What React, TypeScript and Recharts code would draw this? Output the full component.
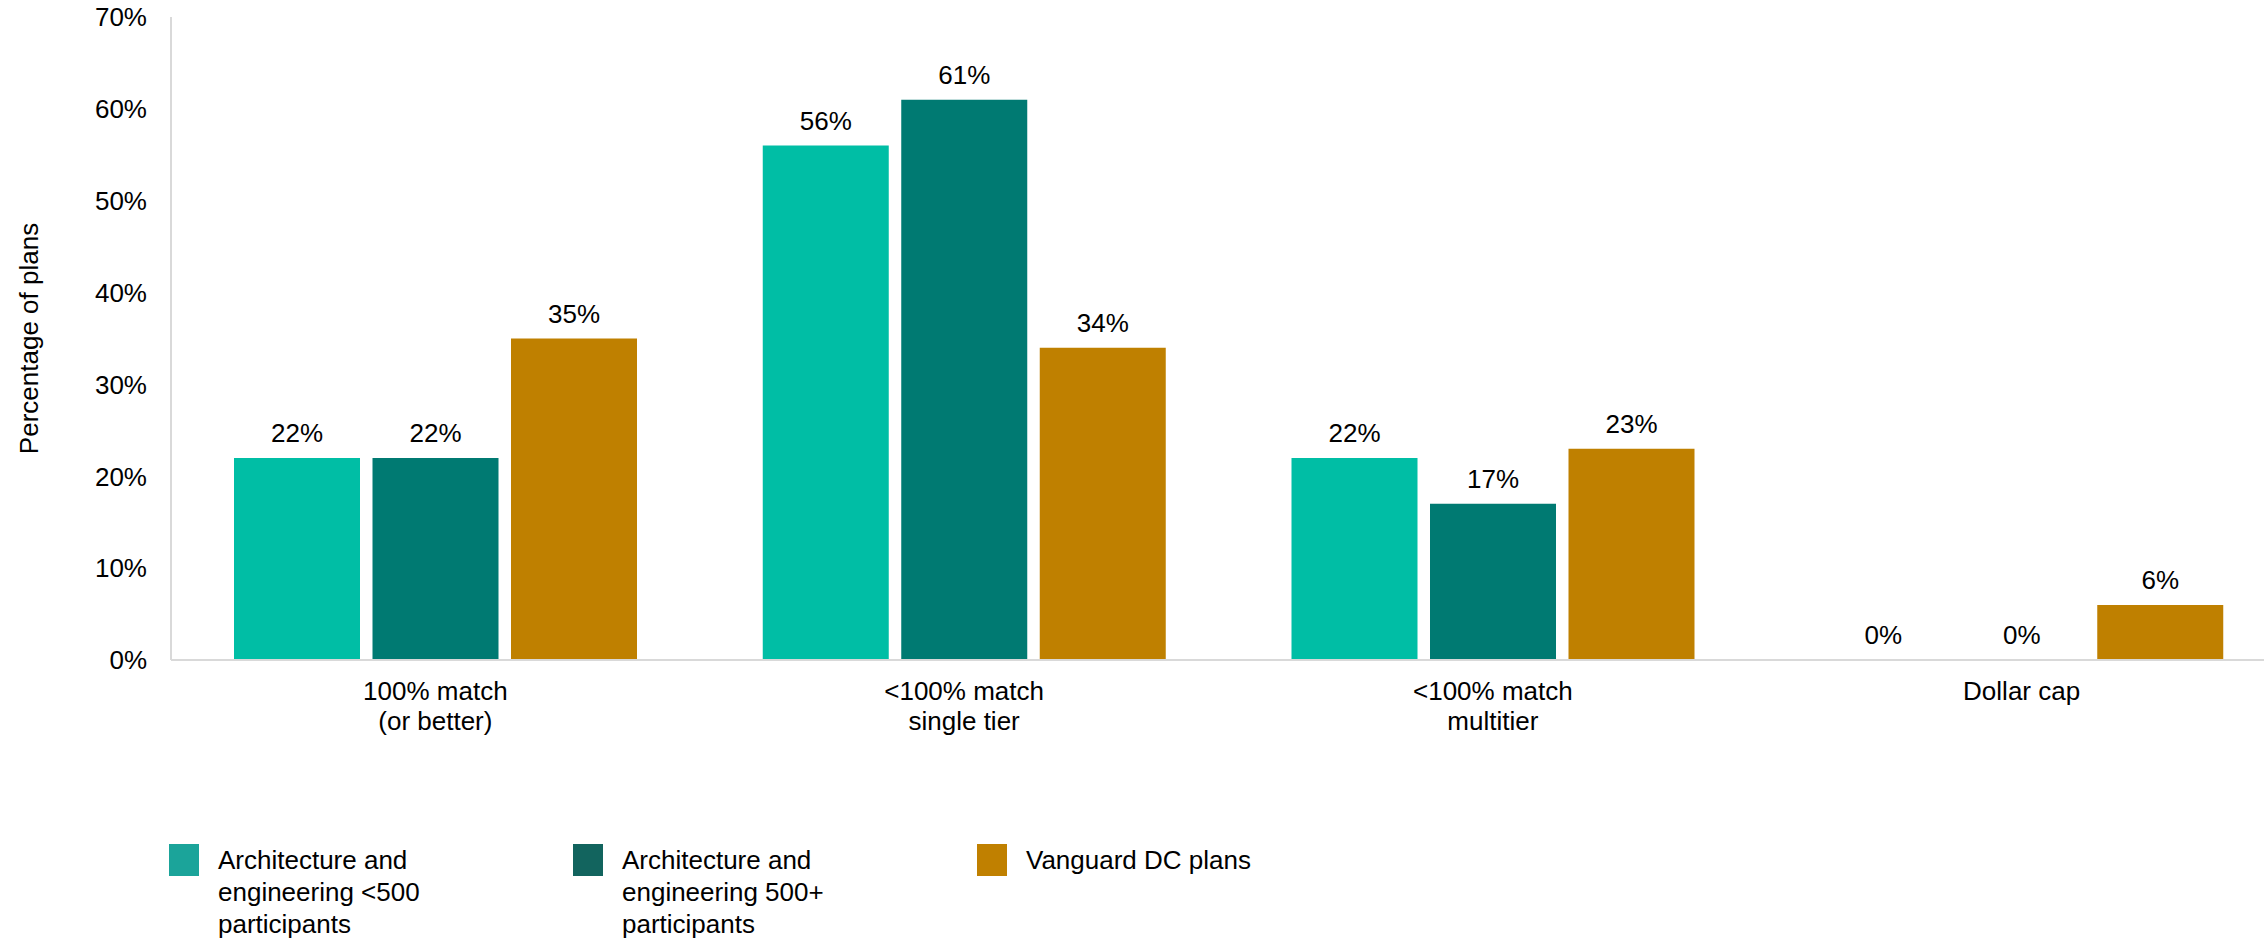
import React from 'react';
import { BarChart, Bar, XAxis, YAxis, LabelList, Legend } from 'recharts';

const categories: string[] = [
  '100% match\n(or better)',
  '<100% match\nsingle tier',
  '<100% match\nmultitier',
  'Dollar cap',
];
const smallPlans: number[] = [22, 56, 22, 0];
const largePlans: number[] = [22, 61, 17, 0];
const vanguardPlans: number[] = [35, 34, 23, 6];
const yTicks: number[] = [0, 10, 20, 30, 40, 50, 60, 70];

const seriesNames = [
  'Architecture and\nengineering <500\nparticipants',
  'Architecture and\nengineering 500+\nparticipants',
  'Vanguard DC plans',
];
const barColors = ['#00BEA5', '#007A72', '#BF8000'];
const legendColors = ['#1BA49A', '#12645E', '#C08000'];

const data = categories.map((c, i) => ({
  name: c,
  small: smallPlans[i],
  large: largePlans[i],
  vanguard: vanguardPlans[i],
}));

const FONT = '"Liberation Sans", Arial, Helvetica, sans-serif';

const XTick = (props: any) => {
  const { x, y, payload } = props;
  const lines = String(payload.value).split('\n');
  return (
    <text x={x} y={y} textAnchor="middle" fill="#000" fontSize={26} fontFamily={FONT}>
      {lines.map((l, i) => (
        <tspan key={i} x={x} y={y + 40 + i * 30}>
          {l}
        </tspan>
      ))}
    </text>
  );
};

const YLabel = (props: any) => {
  const vb = props.viewBox || {};
  const x = (vb.x || 0) + 38;
  const y = (vb.y || 0) + (vb.height || 0) / 2;
  return (
    <text
      x={x}
      y={y}
      transform={`rotate(-90, ${x}, ${y})`}
      textAnchor="middle"
      fill="#000"
      fontSize={26}
      fontFamily={FONT}
    >
      Percentage of plans
    </text>
  );
};

const LegendContent = () => (
  <div style={{ display: 'flex', fontFamily: FONT, fontSize: 26, color: '#000' }}>
    {seriesNames.map((n, i) => (
      <div key={i} style={{ display: 'flex', width: 404, alignItems: 'flex-start' }}>
        <div style={{ width: 30, height: 32, background: legendColors[i], flexShrink: 0 }} />
        <div style={{ marginLeft: 19, lineHeight: '32px', whiteSpace: 'pre' }}>{n}</div>
      </div>
    ))}
  </div>
);

const labelProps = {
  position: 'top' as const,
  offset: 16,
  formatter: (v: any) => `${v}%`,
  fill: '#000',
  fontSize: 26,
  fontFamily: FONT,
};

export default function App() {
  return (
    <div
      style={{
        position: 'absolute',
        left: 0,
        top: 0,
        width: 2264,
        height: 939,
        overflow: 'hidden',
        background: '#fff',
      }}
    >
      <BarChart
        width={2286}
        height={939}
        data={data}
        margin={{ top: 17, right: 0, left: 0, bottom: 0 }}
        barCategoryGap={63}
        barGap={12.5}
      >
        <XAxis
          dataKey="name"
          height={279}
          tickLine={false}
          tickSize={0}
          tickMargin={0}
          axisLine={{ stroke: '#d9d9d9', strokeWidth: 2 }}
          tick={<XTick />}
          interval={0}
        />
        <YAxis
          width={171}
          domain={[0, 70]}
          ticks={yTicks}
          tickFormatter={(v: number) => `${v}%`}
          tickLine={false}
          tickSize={0}
          tickMargin={24}
          axisLine={{ stroke: '#d9d9d9', strokeWidth: 2 }}
          tick={{ fill: '#000', fontSize: 26, fontFamily: FONT }}
          label={<YLabel />}
        />
        <Legend
          layout="horizontal"
          verticalAlign="middle"
          align="center"
          content={<LegendContent />}
          wrapperStyle={{ left: 169, top: 844, width: 1300, height: 100 }}
        />
        <Bar dataKey="small" fill={barColors[0]} minPointSize={0.01} isAnimationActive={false}>
          <LabelList dataKey="small" {...labelProps} />
        </Bar>
        <Bar dataKey="large" fill={barColors[1]} minPointSize={0.01} isAnimationActive={false}>
          <LabelList dataKey="large" {...labelProps} />
        </Bar>
        <Bar dataKey="vanguard" fill={barColors[2]} minPointSize={0.01} isAnimationActive={false}>
          <LabelList dataKey="vanguard" {...labelProps} />
        </Bar>
      </BarChart>
    </div>
  );
}
